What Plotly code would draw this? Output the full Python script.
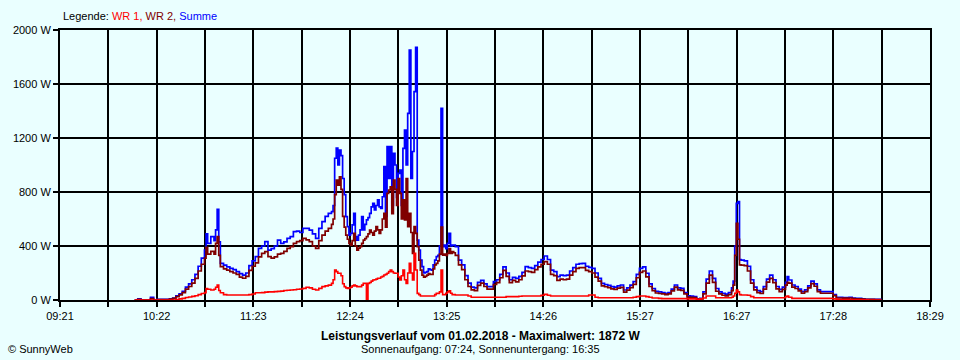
import plotly.graph_objects as go
from datetime import datetime

# ---------------- data ----------------
DAY = "2018-02-01"

times = [
    "10:08", "10:10", "10:12", "10:14", "10:16", "10:18", "10:20", "10:22", "10:24", "10:26",
    "10:28", "10:30", "10:32", "10:34", "10:36", "10:38", "10:40", "10:42", "10:44", "10:46",
    "10:48", "10:50", "10:52", "10:53", "10:54", "10:56", "10:58", "10:59",
    "11:00", "11:01", "11:02", "11:04", "11:06", "11:08", "11:10", "11:12", "11:14", "11:16",
    "11:18", "11:20", "11:22", "11:24", "11:26", "11:28", "11:30", "11:32", "11:34", "11:36",
    "11:38", "11:40", "11:42", "11:44", "11:46", "11:48", "11:50", "11:52", "11:54", "11:56",
    "11:58",
    "12:00", "12:02", "12:04", "12:06", "12:08", "12:10", "12:12",
    "12:13", "12:14", "12:15", "12:16", "12:17", "12:18", "12:19", "12:20", "12:21", "12:22",
    "12:23", "12:24", "12:25", "12:26", "12:27", "12:28", "12:29", "12:30", "12:31", "12:32",
    "12:33", "12:34", "12:35", "12:36", "12:37", "12:38", "12:39", "12:40", "12:41", "12:42",
    "12:43", "12:44", "12:45", "12:46", "12:47", "12:48", "12:49", "12:50", "12:51", "12:52",
    "12:53", "12:54", "12:55", "12:56", "12:57", "12:58", "12:59",
    "13:00", "13:01", "13:02", "13:03", "13:04", "13:05", "13:06", "13:07", "13:08", "13:09",
    "13:10", "13:11", "13:12", "13:13", "13:14", "13:15", "13:16", "13:17", "13:18", "13:19",
    "13:20", "13:21", "13:22", "13:23", "13:24", "13:25", "13:26", "13:27", "13:28", "13:29",
    "13:30",
    "13:32", "13:34", "13:36", "13:38", "13:40", "13:42", "13:44", "13:46", "13:48", "13:50",
    "13:52", "13:54", "13:56", "13:58",
    "14:00", "14:02", "14:04", "14:06", "14:08", "14:10", "14:12", "14:14", "14:16", "14:18",
    "14:20", "14:22", "14:24", "14:26", "14:28", "14:30", "14:32", "14:34", "14:36", "14:38",
    "14:40", "14:42", "14:44", "14:46", "14:48", "14:50", "14:52", "14:54", "14:56", "14:58",
    "15:00", "15:02", "15:04", "15:06", "15:08", "15:10", "15:12", "15:14", "15:16", "15:18",
    "15:20", "15:22", "15:24", "15:26", "15:28", "15:30", "15:32", "15:34", "15:36", "15:38",
    "15:40", "15:42", "15:44", "15:46", "15:48", "15:50", "15:52", "15:54", "15:56", "15:58",
    "16:00", "16:02", "16:04", "16:06", "16:08", "16:10", "16:12", "16:14", "16:16", "16:18",
    "16:20", "16:22", "16:24",
    "16:25", "16:26", "16:27", "16:28", "16:29",
    "16:30", "16:32", "16:34", "16:36", "16:38", "16:40", "16:42", "16:44", "16:46", "16:48",
    "16:50", "16:52", "16:54", "16:56", "16:58",
    "16:59",
    "17:00", "17:02", "17:04", "17:06", "17:08", "17:10", "17:12", "17:14", "17:16", "17:18",
    "17:20", "17:22", "17:24", "17:26", "17:28", "17:30", "17:32", "17:34", "17:36", "17:38",
    "17:40", "17:42", "17:44", "17:46", "17:48", "17:50", "17:52", "17:54", "17:56", "17:58",
]

summe = [
    0, 8, 0, 0, 0, 20, 0, 5, 5, 5,
    4, 8, 15, 30, 45, 65, 95, 120, 150, 190,
    250, 310, 370, 490, 420, 470, 440, 520,
    672, 430, 272, 259, 245, 235, 225, 210, 195, 185,
    200, 255, 290, 321, 383, 400, 432, 370, 380, 400,
    444, 420, 430, 457, 470, 506, 510, 500, 530, 531,
    518,
    490, 457, 530, 580, 620, 642, 654,
    700, 1050, 1126, 1000, 1111, 1070, 900, 780, 617, 543,
    480, 494, 556, 642, 469, 444, 480, 519, 617, 519,
    560, 593, 610, 642, 690, 716, 667, 700, 741, 690,
    679, 765, 988, 620, 1136, 900, 1136, 700, 1086, 1000,
    760, 938, 963, 700, 1123, 1259, 1000,
    1383, 1852, 900, 1100, 1543, 1872, 444, 370, 296, 247,
    200, 205, 210, 230, 225, 222, 260, 296, 321, 330,
    400, 1420, 395, 407, 380, 420, 494, 400, 407, 407,
    395,
    296, 260, 180, 125, 95, 90, 130, 145, 120, 99,
    99, 136, 150, 190,
    245, 200, 150, 168, 160, 175, 205, 247, 240, 235,
    255, 280, 300, 326, 300, 222, 210, 173, 185, 180,
    185, 215, 240, 265, 270, 272, 250, 242, 235, 200,
    160, 123, 115, 108, 99, 95, 105, 111, 74, 90,
    110, 136, 190, 235, 245, 198, 120, 85, 65, 60,
    55, 49, 55, 80, 111, 90, 86, 55, 30, 28,
    25, 8, 12, 60, 155, 215, 160, 85, 60, 50,
    44, 55, 90,
    140, 400, 716, 728, 300,
    296, 290, 250, 150, 95, 70, 62, 99, 155, 185,
    150, 100, 79, 95, 130,
    173,
    148, 111, 100, 80, 62, 75, 105, 140, 120, 75,
    62, 62, 62, 62, 40, 20, 20, 18, 18, 20,
    15, 12, 12, 8, 5, 5, 5, 4, 4, 0,
]

wr2 = [
    0, 5, 0, 0, 0, 10, 0, 3, 3, 3,
    3, 6, 12, 25, 38, 55, 80, 100, 125, 160,
    215, 265, 310, 390, 340, 360, 340, 420,
    470, 330, 247, 230, 222, 210, 200, 190, 170, 161,
    175, 220, 250, 275, 320, 345, 358, 321, 310, 320,
    340, 346, 360, 383, 395, 420, 432, 440, 457, 445,
    432,
    400, 383, 440, 481, 510, 531, 560,
    600, 780, 889, 850, 913, 820, 620, 540, 480, 450,
    420, 407, 440, 494, 400, 370, 385, 395, 420, 444,
    455, 469, 490, 518, 500, 481, 510, 543, 520, 494,
    520, 600, 642, 540, 790, 815, 839, 640, 889, 820,
    700, 900, 790, 600, 741, 593, 900,
    543, 642, 500, 346, 543, 494, 395, 296, 222, 185,
    170, 175, 185, 195, 190, 190, 230, 260, 272, 290,
    340, 540, 333, 340, 330, 346, 380, 346, 358, 350,
    330,
    260, 225, 150, 100, 75, 70, 108, 125, 100, 80,
    80, 115, 128, 165,
    220, 175, 128, 145, 135, 150, 178, 215, 210, 205,
    225, 245, 265, 284, 265, 190, 180, 145, 155, 150,
    155, 185, 210, 235, 240, 240, 220, 210, 200, 170,
    140, 105, 98, 92, 82, 78, 88, 94, 58, 73,
    92, 116, 165, 205, 215, 172, 100, 70, 52, 48,
    45, 40, 45, 68, 95, 75, 72, 45, 22, 20,
    18, 5, 8, 45, 125, 185, 130, 65, 45, 35,
    30, 40, 70,
    110, 330, 568, 450, 260,
    259, 255, 215, 125, 75, 55, 48, 80, 132, 160,
    128, 82, 62, 78, 110,
    130,
    125, 95, 85, 67, 50, 62, 90, 122, 102, 62,
    50, 50, 50, 50, 32, 15, 15, 14, 14, 15,
    11, 9, 9, 6, 4, 4, 4, 3, 3, 0,
]

wr1 = [
    0, 0, 0, 0, 0, 0, 0, 0, 0, 0,
    0, 0, 0, 4, 8, 12, 18, 22, 27, 32,
    40, 48, 55, 85, 80, 74, 80, 95,
    111, 70, 54, 40, 37, 37, 37, 37, 37, 37,
    37, 40, 45, 54, 54, 55, 58, 60, 60, 62,
    64, 66, 70, 72, 74, 76, 80, 82, 86, 94,
    90,
    80, 74, 86, 99, 105, 110, 123,
    150, 222, 210, 198, 198, 180, 120, 99, 90, 86,
    90, 95, 105, 111, 105, 99, 99, 99, 110, 123,
    123, 0, 123, 130, 140, 148, 150, 155, 161, 161,
    170, 175, 185, 190, 198, 210, 222, 210, 200, 198,
    198, 170, 148, 180, 222, 150, 123,
    200, 272, 200, 148, 346, 222, 49, 40, 30, 30,
    30, 30, 30, 30, 30, 30, 30, 40, 49, 49,
    60, 222, 40, 40, 50, 60, 69, 50, 40, 40,
    37,
    37, 37, 37, 30, 20, 20, 20, 20, 20, 20,
    20, 20, 20, 20,
    20, 25, 25, 25, 25, 28, 30, 30, 30, 30,
    30, 30, 35, 42, 35, 30, 30, 30, 30, 30,
    30, 30, 30, 30, 30, 30, 30, 37, 37, 20,
    17, 17, 17, 17, 17, 17, 17, 17, 17, 17,
    17, 20, 25, 30, 30, 25, 20, 15, 15, 12,
    10, 10, 10, 10, 10, 10, 10, 10, 8, 8,
    8, 5, 8, 15, 30, 30, 30, 17, 17, 17,
    17, 17, 20,
    30, 50, 74, 60, 40,
    37, 37, 35, 25, 17, 17, 17, 17, 17, 17,
    17, 17, 17, 17, 25,
    30,
    20, 12, 12, 12, 12, 12, 12, 12, 12, 12,
    12, 12, 12, 12, 8, 5, 4, 3, 3, 3,
    2, 2, 2, 1, 1, 0, 0, 0, 0, 0,
]

x_tick_labels = ["09:21", "10:22", "11:23", "12:24", "13:25",
                 "14:26", "15:27", "16:27", "17:28", "18:29"]
y_tick_values = [0, 400, 800, 1200, 1600, 2000]
y_tick_labels = ["0 W", "400 W", "800 W", "1200 W", "1600 W", "2000 W"]

legend_title = "Legende:"
series_names = ["WR 1", "WR 2", "Summe"]
title_text = "Leistungsverlauf vom 01.02.2018 - Maximalwert: 1872 W"
sun_text = "Sonnenaufgang: 07:24, Sonnenuntergang: 16:35"
copyright_text = "© SunnyWeb"

assert len(times) == len(summe) == len(wr2) == len(wr1)

# ---------------- styling ----------------
BG = "#EAFFFF"
C_WR1 = "#FF0000"
C_WR2 = "#800000"
C_SUM = "#0000FF"
FONT = "Liberation Sans, Arial, sans-serif"

W, H = 960, 360
L, R, T, B = 60, 30, 30, 60
PW, PH = W - L - R, H - T - B


def px_x(p):
    return (p - L) / PW


def px_y(p):
    return (H - B - p) / PH


xs = [f"{DAY} {t}:00" for t in times]

start = datetime(2018, 2, 1, 9, 21)
end = datetime(2018, 2, 1, 18, 29)
n_div = 2 * (len(x_tick_labels) - 1)
step = (end - start) / n_div
tickvals = [start + k * step for k in range(n_div + 1)]
ticktext = [x_tick_labels[k // 2] if k % 2 == 0 else "" for k in range(n_div + 1)]

fig = go.Figure()
fig.add_trace(go.Scatter(x=xs, y=summe, mode="lines", name=series_names[2],
                         line=dict(color=C_SUM, width=1.7, shape="hv")))
fig.add_trace(go.Scatter(x=xs, y=wr2, mode="lines", name=series_names[1],
                         line=dict(color=C_WR2, width=1.7, shape="hv")))
fig.add_trace(go.Scatter(x=xs, y=wr1, mode="lines", name=series_names[0],
                         line=dict(color=C_WR1, width=1.6, shape="hv")))

fig.update_layout(
    width=W, height=H, autosize=False,
    margin=dict(l=L, r=R, t=T, b=B, pad=0),
    paper_bgcolor=BG, plot_bgcolor=BG,
    showlegend=False,
    font=dict(family=FONT, size=11, color="black"),
)

fig.update_xaxes(
    type="date",
    range=[start, end],
    tickmode="array", tickvals=tickvals, ticktext=ticktext,
    showgrid=True, gridcolor="black", gridwidth=2,
    showline=True, linecolor="black", linewidth=2, mirror=True,
    ticks="outside", ticklen=5, tickwidth=2, tickcolor="black",
    tickfont=dict(family=FONT, size=11, color="black"),
    zeroline=False,
)
fig.update_yaxes(
    range=[0, 2000],
    tickmode="array", tickvals=y_tick_values, ticktext=y_tick_labels,
    showgrid=True, gridcolor="black", gridwidth=2,
    showline=True, linecolor="black", linewidth=2, mirror=True,
    ticks="outside", ticklen=5, tickwidth=2, tickcolor="black",
    tickfont=dict(family=FONT, size=11, color="black"),
    zeroline=False,
)

legend_html = (f"{legend_title} "
               f"<span style='color:{C_WR1}'>{series_names[0]},</span> "
               f"<span style='color:{C_WR2}'>{series_names[1]},</span> "
               f"<span style='color:{C_SUM}'>{series_names[2]}</span>")

annos = [
    dict(text=legend_html, x=px_x(61), y=px_y(16), xanchor="left", yanchor="middle",
         font=dict(size=11)),
    dict(text=f"<b>{title_text}</b>", x=px_x(480), y=px_y(336), xanchor="center",
         yanchor="middle", font=dict(size=12)),
    dict(text=sun_text, x=px_x(480), y=px_y(349), xanchor="center", yanchor="middle",
         font=dict(size=11)),
    dict(text=copyright_text, x=px_x(6), y=px_y(349), xanchor="left", yanchor="middle",
         font=dict(size=11)),
]
for a in annos:
    a.update(xref="paper", yref="paper", showarrow=False)
fig.update_layout(annotations=annos)

fig.write_html(
    "out.html",
    config={"displayModeBar": False},
    post_script=("document.body.style.margin='0';"
                 "document.body.style.padding='0';"
                 "document.body.style.overflow='hidden';"
                 f"document.body.style.background='{BG}';"),
)
